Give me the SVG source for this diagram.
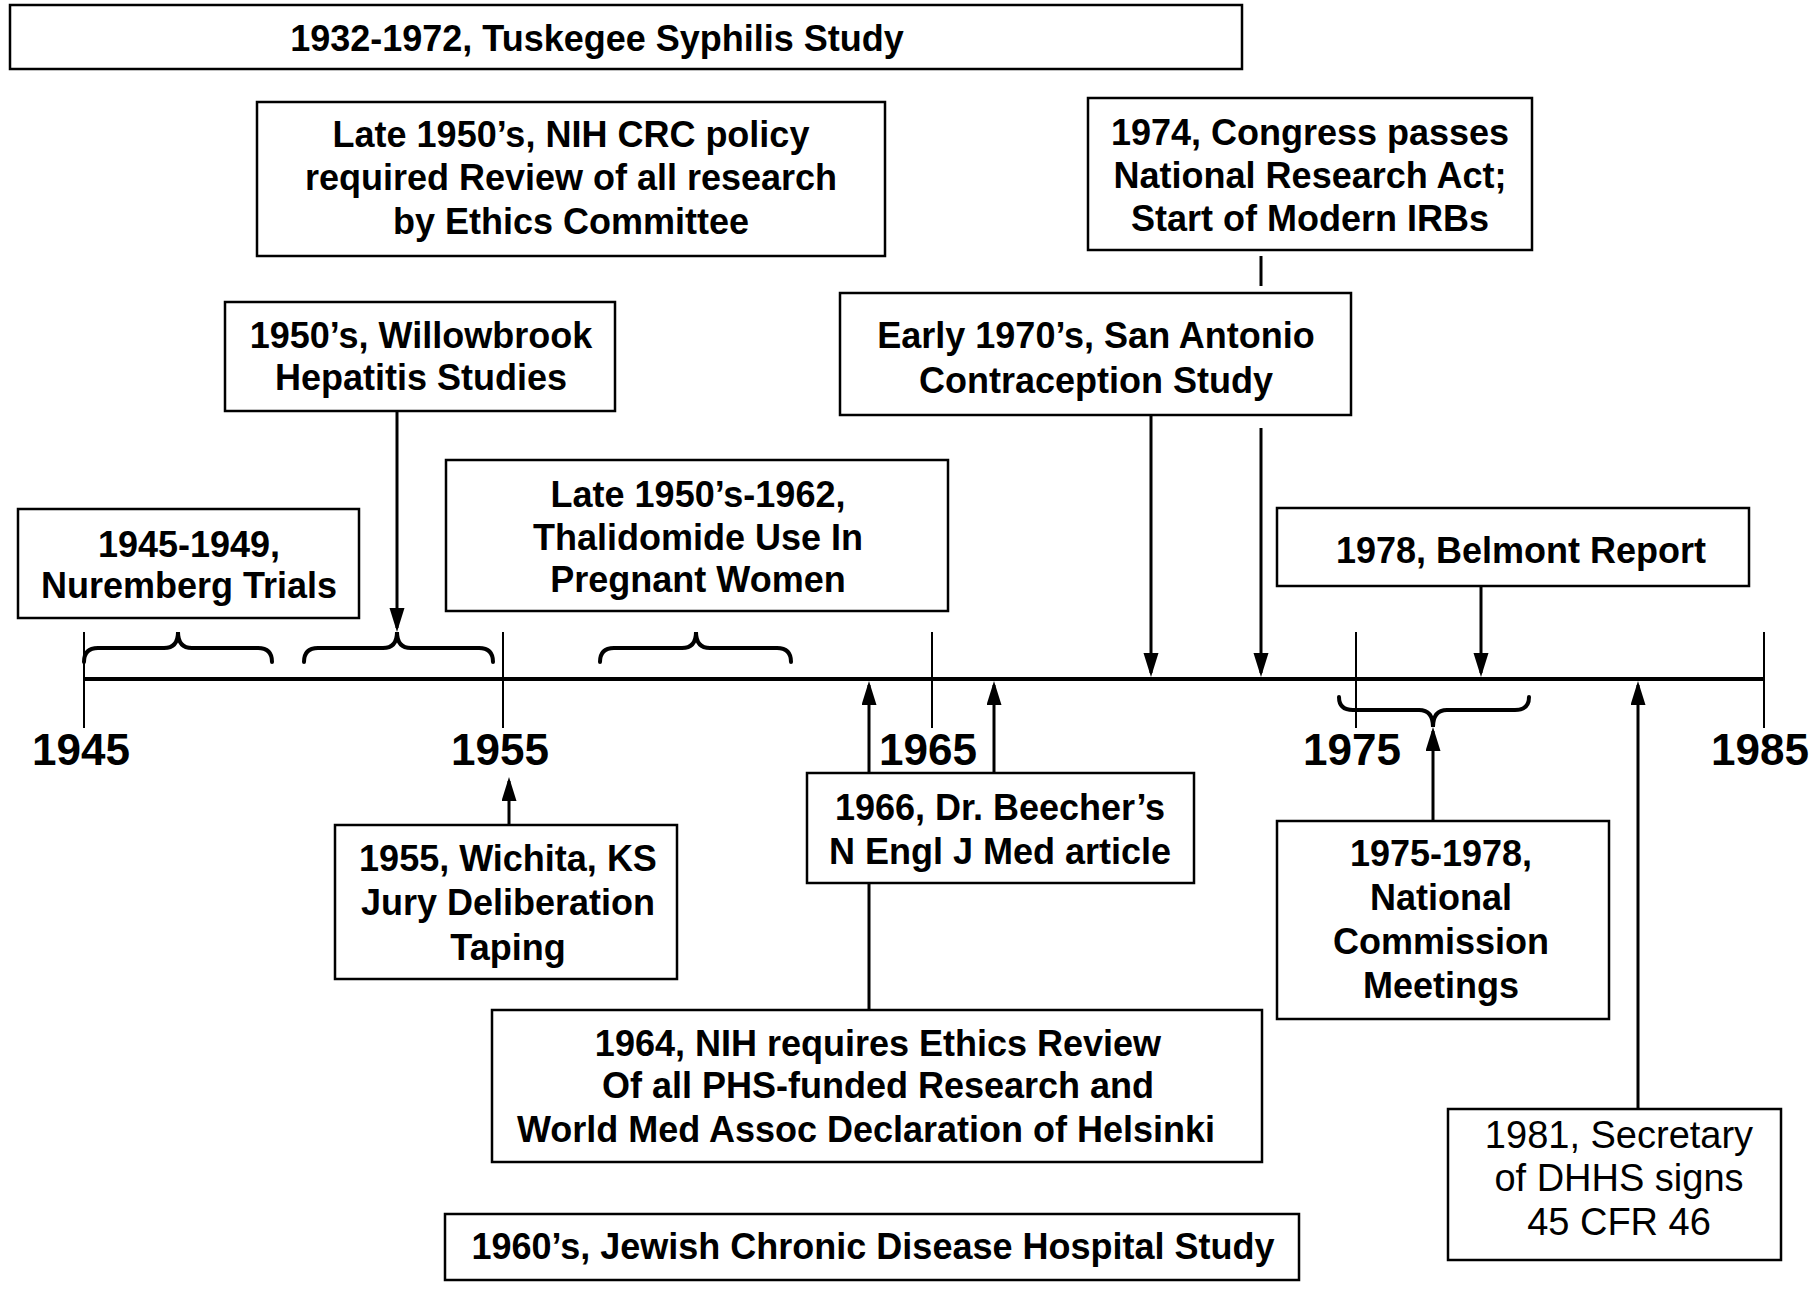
<svg xmlns="http://www.w3.org/2000/svg" width="1819" height="1296" viewBox="0 0 1819 1296">
<defs>
<marker id="ah" markerUnits="userSpaceOnUse" markerWidth="26" markerHeight="16" refX="20" refY="7.5" orient="auto">
<path d="M0,0 L24,7.5 L0,15 Z" fill="#000"/>
</marker>
<style>
.box{fill:#fff;stroke:#000;stroke-width:2.5}
.t{font-family:"Liberation Sans",Arial,sans-serif;font-weight:bold;font-size:36px;text-anchor:middle;fill:#000}
.r{font-family:"Liberation Sans",Arial,sans-serif;font-weight:normal;font-size:38px;text-anchor:middle;fill:#000}
.yr{font-family:"Liberation Sans",Arial,sans-serif;font-weight:bold;font-size:44px;text-anchor:middle;fill:#000}
.axis{stroke:#000;stroke-width:4;fill:none}
.tick{stroke:#000;stroke-width:2;fill:none}
.brace{stroke:#000;stroke-width:4;fill:none;stroke-linecap:round}
.arr{stroke:#000;stroke-width:3;fill:none;marker-end:url(#ah)}
.ln{stroke:#000;stroke-width:3;fill:none}
</style>
</defs>
<rect width="1819" height="1296" fill="#fff"/>

<g id="timeline">
<line class="axis" x1="84" y1="679" x2="1764" y2="679"/>
<line class="tick" x1="84" y1="632" x2="84" y2="728"/>
<line class="tick" x1="503" y1="632" x2="503" y2="728"/>
<line class="tick" x1="932" y1="632" x2="932" y2="728"/>
<line class="tick" x1="1356" y1="632" x2="1356" y2="728"/>
<line class="tick" x1="1764" y1="632" x2="1764" y2="728"/>
<text class="yr" x="81" y="765">1945</text>
<text class="yr" x="500" y="765">1955</text>
<text class="yr" x="928" y="765">1965</text>
<text class="yr" x="1352" y="765">1975</text>
<text class="yr" x="1760" y="765">1985</text>
<path class="brace" d="M84,662 Q84,648 98,648 L164,648 Q178,648 178,632 Q178,648 192,648 L258,648 Q272,648 272,662"/>
<path class="brace" d="M304,662 Q304,648 318,648 L383,648 Q397,648 397,632 Q397,648 411,648 L479,648 Q493,648 493,662"/>
<path class="brace" d="M600,662 Q600,648 614,648 L682,648 Q696,648 696,632 Q696,648 710,648 L777,648 Q791,648 791,662"/>
<path class="brace" d="M1339,697 Q1339,710 1353,710 L1419,710 Q1433,710 1433,727 Q1433,710 1447,710 L1515,710 Q1529,710 1529,697"/>
</g>

<g id="connectors">
<line class="arr" x1="397" y1="411" x2="397" y2="628"/>
<line class="arr" x1="1151" y1="415" x2="1151" y2="673"/>
<line class="ln" x1="1261" y1="256" x2="1261" y2="286"/>
<line class="arr" x1="1261" y1="428" x2="1261" y2="673"/>
<line class="arr" x1="1481" y1="587" x2="1481" y2="673"/>
<line class="arr" x1="509" y1="824" x2="509" y2="781"/>
<line class="arr" x1="869" y1="1010" x2="869" y2="685"/>
<line class="arr" x1="994" y1="773" x2="994" y2="685"/>
<line class="arr" x1="1433" y1="821" x2="1433" y2="731"/>
<line class="arr" x1="1638" y1="1109" x2="1638" y2="685"/>
</g>

<g id="tuskegee">
<rect class="box" x="10" y="5" width="1232" height="64"/>
<text class="t" x="597" y="51">1932-1972, Tuskegee Syphilis Study</text>
</g>

<g id="nih-crc">
<rect class="box" x="257" y="102" width="628" height="154"/>
<text class="t" x="571" y="147">Late 1950’s, NIH CRC policy</text>
<text class="t" x="571" y="190">required Review of all research</text>
<text class="t" x="571" y="234">by Ethics Committee</text>
</g>

<g id="congress-1974">
<rect class="box" x="1088" y="98" width="444" height="152"/>
<text class="t" x="1310" y="145">1974, Congress passes</text>
<text class="t" x="1310" y="188">National Research Act;</text>
<text class="t" x="1310" y="231">Start of Modern IRBs</text>
</g>

<g id="willowbrook">
<rect class="box" x="225" y="302" width="390" height="109"/>
<text class="t" x="421" y="348">1950’s, Willowbrook</text>
<text class="t" x="421" y="390">Hepatitis Studies</text>
</g>

<g id="san-antonio">
<rect class="box" x="840" y="293" width="511" height="122"/>
<text class="t" x="1096" y="348">Early 1970’s, San Antonio</text>
<text class="t" x="1096" y="393">Contraception Study</text>
</g>

<g id="thalidomide">
<rect class="box" x="446" y="460" width="502" height="151"/>
<text class="t" x="698" y="507">Late 1950’s-1962,</text>
<text class="t" x="698" y="550">Thalidomide Use In</text>
<text class="t" x="698" y="592">Pregnant Women</text>
</g>

<g id="nuremberg">
<rect class="box" x="18" y="509" width="341" height="109"/>
<text class="t" x="189" y="557">1945-1949,</text>
<text class="t" x="189" y="598">Nuremberg Trials</text>
</g>

<g id="belmont">
<rect class="box" x="1277" y="508" width="472" height="78"/>
<text class="t" x="1521" y="563">1978, Belmont Report</text>
</g>

<g id="wichita">
<rect class="box" x="335" y="825" width="342" height="154"/>
<text class="t" x="508" y="871">1955, Wichita, KS</text>
<text class="t" x="508" y="915">Jury Deliberation</text>
<text class="t" x="508" y="960">Taping</text>
</g>

<g id="beecher">
<rect class="box" x="807" y="773" width="387" height="110"/>
<text class="t" x="1000" y="820">1966, Dr. Beecher’s</text>
<text class="t" x="1000" y="864">N Engl J Med article</text>
</g>

<g id="nih-1964">
<rect class="box" x="492" y="1010" width="770" height="152"/>
<text class="t" x="878" y="1056">1964, NIH requires Ethics Review</text>
<text class="t" x="878" y="1098">Of all PHS-funded Research and</text>
<text class="t" x="866" y="1142">World Med Assoc Declaration of Helsinki</text>
</g>

<g id="jewish">
<rect class="box" x="445" y="1214" width="854" height="66"/>
<text class="t" x="873" y="1259">1960’s, Jewish Chronic Disease Hospital Study</text>
</g>

<g id="national-commission">
<rect class="box" x="1277" y="821" width="332" height="198"/>
<text class="t" x="1441" y="866">1975-1978,</text>
<text class="t" x="1441" y="910">National</text>
<text class="t" x="1441" y="954">Commission</text>
<text class="t" x="1441" y="998">Meetings</text>
</g>

<g id="dhhs-1981">
<rect class="box" x="1448" y="1109" width="333" height="151"/>
<text class="r" x="1619" y="1148">1981, Secretary</text>
<text class="r" x="1619" y="1191">of DHHS signs</text>
<text class="r" x="1619" y="1235">45 CFR 46</text>
</g>
</svg>
